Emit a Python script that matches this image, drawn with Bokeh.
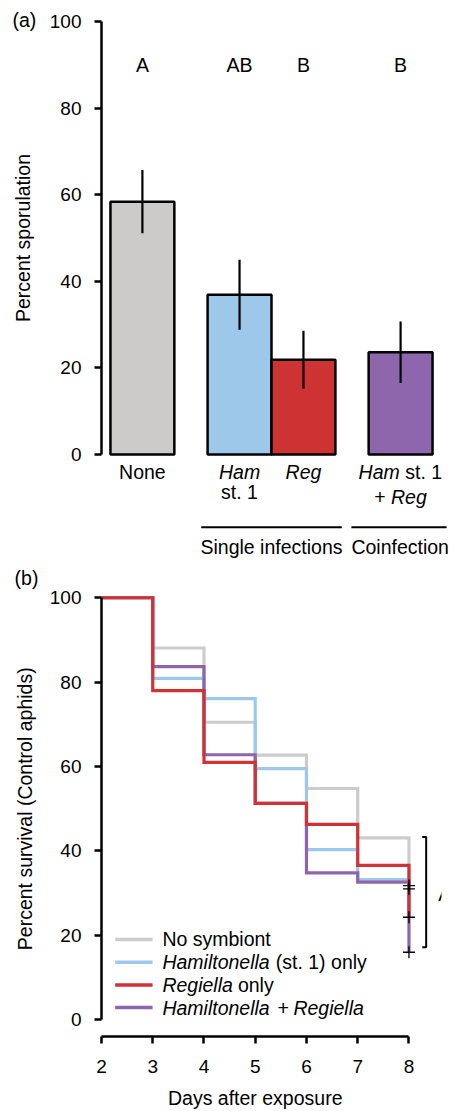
import math
from bokeh.plotting import figure
from bokeh.models import FactorRange, FixedTicker, ColumnDataSource
from bokeh.layouts import column
from bokeh.core.properties import value, field
from bokeh.embed import file_html
from bokeh.resources import INLINE

FONT = value("Liberation Sans")
FS = "19.5px"

# ---------------- data: panel (a) ----------------
groups = ["none", "single", "single", "coinf"]
treatments = ["None", "Ham st. 1", "Reg", "Ham st. 1 + Reg"]
sporulation = [58.4, 36.9, 21.9, 23.6]
sporulation_se = [7.3, 8.1, 6.7, 7.1]
letters = ["A", "AB", "B", "B"]
bar_colors = ["#CCCBC9", "#9DC8EA", "#CD3333", "#8E66AB"]
group_names = ["Single infections", "Coinfection"]
a_ticks = [0, 20, 40, 60, 80, 100]

# ---------------- data: panel (b) ----------------
days = [2, 3, 4, 5, 6, 7, 8]
surv_none = [100, 88.1, 70.5, 62.7, 54.8, 43.1, 31.0]
surv_ham = [100, 80.9, 76.1, 59.5, 40.3, 33.2, 31.8]
surv_reg = [100, 78.0, 61.0, 51.3, 46.3, 36.6, 24.3]
surv_both = [100, 83.7, 62.8, 51.3, 34.8, 32.6, 16.0]
series = [surv_none, surv_ham, surv_reg, surv_both]
series_colors = ["#CCCCCC", "#9DC8EA", "#D03236", "#8D65AA"]
b_ticks = [0, 20, 40, 60, 80, 100]
bracket_label = "A"


def style_axis(ax, ticks, bounds):
    ax.ticker = FixedTicker(ticks=ticks)
    ax.bounds = bounds
    ax.axis_line_width = 2.5
    ax.axis_line_color = "black"
    ax.major_tick_line_width = 2.5
    ax.major_tick_line_color = "black"
    ax.major_tick_out = 7
    ax.major_tick_in = 0
    ax.minor_tick_line_color = None
    ax.major_label_text_font = "Liberation Sans"
    ax.major_label_text_font_size = "19px"
    ax.major_label_text_color = "black"
    ax.major_label_standoff = 13


# ================= panel (a) =================
factors = list(zip(groups, treatments))
xr = FactorRange(factors=factors, factor_padding=0.0, group_padding=0.52,
                 range_padding=0.14, range_padding_units="absolute")
pa = figure(x_range=xr, y_range=(-26.33, 104.85), width=449, height=568,
            x_axis_location=None, output_backend="svg", toolbar_location=None,
            min_border_left=101, min_border_right=8, min_border_top=0, min_border_bottom=0)
pa.grid.visible = False
pa.outline_line_color = None
style_axis(pa.yaxis[0], a_ticks, (0, 100))

src = ColumnDataSource(dict(
    x=factors, top=sporulation,
    lo=[m - s for m, s in zip(sporulation, sporulation_se)],
    hi=[m + s for m, s in zip(sporulation, sporulation_se)],
    color=bar_colors, letter=letters))
pa.vbar(x="x", top="top", bottom=0, width=1.0, fill_color="color",
        line_color="black", line_width=2.5, source=src)
pa.segment(x0="x", y0="lo", x1="x", y1="hi", line_color="black", line_width=2.2, source=src)
pa.text(x="x", y=89.9, text="letter", text_align="center", text_baseline="middle",
        text_font=FONT, text_font_size=FS, text_color="black", source=src)

# category labels (mixed italic / regular pieces)
lab = dict(x=[], text=[], style=[], align=[], xo=[], yo=[])


def add_piece(fac, t, style, align, xo, yo):
    lab["x"].append(fac); lab["text"].append(t); lab["style"].append(style)
    lab["align"].append(align); lab["xo"].append(xo); lab["yo"].append(yo)


add_piece(factors[0], "None", "normal", "center", 0, 18)
add_piece(factors[1], "Ham", "italic", "center", 0, 18)
add_piece(factors[1], "st. 1", "normal", "center", 0, 38)
add_piece(factors[2], "Reg", "italic", "center", 0, 18)
add_piece(factors[3], "Ham", "italic", "left", -42, 18)
add_piece(factors[3], "st. 1", "normal", "left", 4.7, 18)
add_piece(factors[3], "+", "normal", "left", -26.3, 43)
add_piece(factors[3], "Reg", "italic", "left", -9.6, 43)
pa.text(x="x", y=0, text="text", text_font_style=field("style"), text_align=field("align"),
        x_offset="xo", y_offset="yo", text_baseline="middle",
        text_font=FONT, text_font_size=FS, text_color="black",
        source=ColumnDataSource(lab), level="overlay")

# group lines and labels
pa.segment(x0=[(*factors[1], -0.6), (*factors[3], -0.77)], y0=-16.8,
           x1=[(*factors[2], 0.6), (*factors[3], 0.72)], y1=-16.8,
           line_color="black", line_width=2, level="overlay")
gsrc = ColumnDataSource(dict(x=[(*factors[1], 0.5), (*factors[3], -0.77)], t=group_names,
                             al=["center", "left"]))
pa.text(x="x", y=0, text="t", text_align=field("al"), y_offset=93, text_baseline="middle",
        text_font=FONT, text_font_size=FS, text_color="black", source=gsrc, level="overlay")

# panel tag and y title
pa.text(x=[factors[0]], y=100.3, text=["(a)"], x_offset=-130, text_align="left",
        text_baseline="middle", text_font=FONT, text_font_size=FS, level="overlay")
pa.text(x=[factors[0]], y=50, text=["Percent sporulation"], x_offset=-119.5, angle=math.pi / 2,
        text_align="center", text_baseline="middle", text_font=FONT, text_font_size=FS,
        level="overlay")

# ================= panel (b) =================
pb = figure(x_range=(2, 8.635), y_range=(-3.96, 105.04), width=449, height=543,
            output_backend="svg", toolbar_location=None,
            min_border_left=101, min_border_right=0, min_border_top=8, min_border_bottom=75)
pb.grid.visible = False
pb.outline_line_color = None
style_axis(pb.yaxis[0], b_ticks, (0, 100))
style_axis(pb.xaxis[0], days, (days[0], days[-1]))
pb.xaxis[0].major_label_standoff = 16

for i in [0, 1, 3, 2]:
    pb.step(days, series[i], mode="after", line_color=series_colors[i], line_width=3.2,
            line_join="miter")

pb.scatter(x=[days[-1]] * len(series), y=[s[-1] for s in series], marker="cross", size=12,
           line_color="black", line_width=1.3)

# significance bracket
pb.line(x=[8.26, 8.336, 8.336, 8.26], y=[43.3, 43.3, 17.2, 17.2], line_color="black",
        line_width=2)
pb.text(x=[8.57], y=[29.9], text=[bracket_label], text_align="left", text_baseline="middle",
        text_font=FONT, text_font_size=FS)

# legend (manual, mixed italic)
leg_y0, leg_dy = 19.03, 5.38
leg_rows = [leg_y0 - k * leg_dy for k in range(4)]
pb.segment(x0=2.267, y0=leg_rows, x1=2.997, y1=leg_rows, line_color=series_colors, line_width=3.5)
leg = dict(y=[], text=[], style=[], xo=[])


def add_leg(row, t, style, xo):
    leg["y"].append(leg_rows[row]); leg["text"].append(t); leg["style"].append(style); leg["xo"].append(xo)


add_leg(0, "No symbiont", "normal", 0)
add_leg(1, "Hamiltonella", "italic", 0)
add_leg(1, "(st. 1) only", "normal", 113.4)
add_leg(2, "Regiella", "italic", 0)
add_leg(2, "only", "normal", 75.5)
add_leg(3, "Hamiltonella", "italic", 0)
add_leg(3, "+", "normal", 115)
add_leg(3, "Regiella", "italic", 131)
pb.text(x=3.188, y="y", text="text", x_offset="xo", text_font_style=field("style"),
        text_align="left", text_baseline="middle", text_font=FONT, text_font_size=FS,
        text_color="black", source=ColumnDataSource(leg))

# tags and titles
pb.text(x=[0.303], y=[104.8], text=["(b)"], text_align="left", text_baseline="middle",
        text_font=FONT, text_font_size=FS, level="overlay")
pb.text(x=[0.503], y=[50], text=["Percent survival (Control aphids)"], angle=math.pi / 2,
        text_align="center", text_baseline="middle", text_font=FONT, text_font_size=FS,
        level="overlay")
pb.text(x=[5], y=[-18.65], text=["Days after exposure"], text_align="center",
        text_baseline="middle", text_font=FONT, text_font_size=FS, level="overlay")

layout = column(pa, pb)
open("out.html", "w").write(file_html(layout, INLINE))
